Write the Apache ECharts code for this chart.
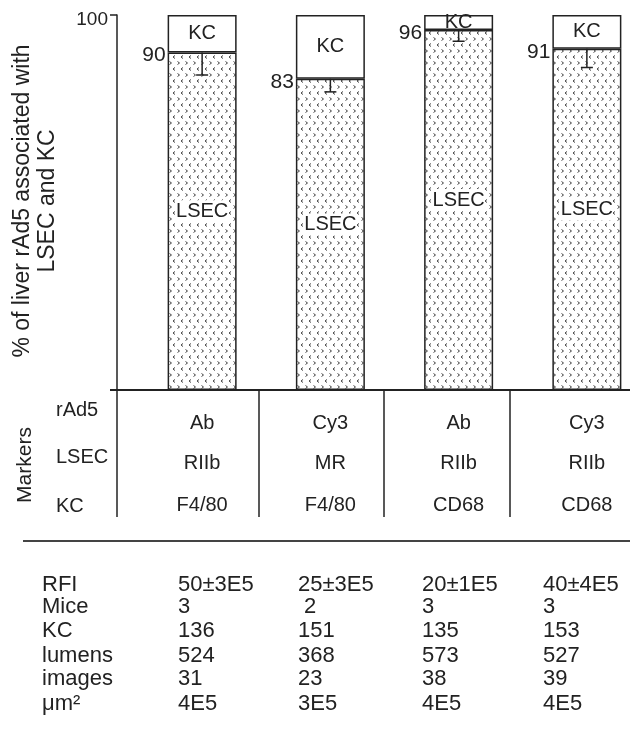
<!DOCTYPE html>
<html><head><meta charset="utf-8">
<script src="https://cdn.jsdelivr.net/npm/echarts@6/dist/echarts.min.js"></script>
<style>html,body{margin:0;padding:0;background:#fff}#c{width:630px;height:741px}</style>
</head><body><div id="c"></div>
<script>
// ---- data ----
var categories = ['A', 'B', 'C', 'D'];
var lsecValues = [90, 83, 96, 91];
var kcValues = [10, 17, 4, 9];
var lsecErrors = [6, 3.5, 3, 5];
var yTickLabels = ['100'];
var markerRowLabels = ['rAd5', 'LSEC', 'KC'];
var rad5Markers = ['Ab', 'Cy3', 'Ab', 'Cy3'];
var lsecMarkers = ['RIIb', 'MR', 'RIIb', 'RIIb'];
var kcMarkers = ['F4/80', 'F4/80', 'CD68', 'CD68'];
var statRowLabels = ['RFI', 'Mice', 'KC', 'lumens', 'images', 'μm²'];
var rfiRow = ['50±3E5', '25±3E5', '20±1E5', '40±4E5'];
var miceRow = ['3', ' 2', '3', '3'];
var kcRow = ['136', '151', '135', '153'];
var lumensRow = ['524', '368', '573', '527'];
var imagesRow = ['31', '23', '38', '39'];
var areaRow = ['4E5', '3E5', '4E5', '4E5'];

var FONT = '"Liberation Sans", Arial, sans-serif';
var TXT = '#222';

function makePattern() {
  var c = document.createElement('canvas'); c.width = 8; c.height = 12;
  var g = c.getContext('2d');
  g.fillStyle = '#fff'; g.fillRect(0, 0, 8, 12);
  g.strokeStyle = '#444'; g.lineWidth = 1;
  g.beginPath(); g.moveTo(1.5, 1.5); g.lineTo(3.5, 3); g.lineTo(1.5, 4.5); g.stroke();
  g.beginPath(); g.moveTo(7, 7.5); g.lineTo(5, 9); g.lineTo(7, 10.5); g.stroke();
  return c;
}

var BARW = 69;
var chart = echarts.init(document.getElementById('c'), null, {renderer: 'canvas'});
var option = {
  backgroundColor: '#fff',
  animation: false,
  grid: {left: 138, top: 15, width: 513, height: 375, containLabel: false, outerBoundsMode: 'none'},
  xAxis: {type: 'category', data: categories, show: false},
  yAxis: {
    type: 'value', min: 0, max: 100, interval: 100, offset: 21,
    axisLine: {show: true, lineStyle: {color: '#222', width: 1.5}},
    axisTick: {show: true, length: 7, lineStyle: {color: '#222', width: 1.5}},
    splitLine: {show: false},
    axisLabel: {
      fontFamily: FONT, fontSize: 19, color: TXT, margin: 9,
      formatter: function (v) { return yTickLabels.indexOf(String(v)) >= 0 ? '{t|' + v + '}' : ''; },
      rich: {t: {fontFamily: FONT, fontSize: 19, color: TXT, padding: [10, 0, 0, 0]}}
    }
  },
  series: [
    {
      name: 'LSEC', type: 'bar', stack: 's', barWidth: BARW, data: lsecValues,
      itemStyle: {color: {image: makePattern(), repeat: 'repeat'}, borderColor: '#222', borderWidth: 1.5},
      label: {show: true, position: 'inside', offset: [0, -10], formatter: 'LSEC',
        fontFamily: FONT, fontSize: 20, color: TXT, backgroundColor: '#fff', padding: [1, 0]}
    },
    {
      name: 'KC', type: 'bar', stack: 's', barWidth: BARW, data: kcValues,
      itemStyle: {color: '#fff', borderColor: '#222', borderWidth: 1.5},
      label: {show: true, position: 'inside', formatter: 'KC',
        fontFamily: FONT, fontSize: 20, color: TXT}
    },
    {
      name: 'err', type: 'custom', z: 5,
      data: lsecValues.map(function (v, i) { return [i, v, lsecErrors[i]]; }),
      renderItem: function (params, api) {
        var i = api.value(0), v = api.value(1), e = api.value(2);
        var top = api.coord([i, v]);
        var bot = api.coord([i, v - e]);
        var cap = 6;
        return {
          type: 'group',
          children: [
            {type: 'line', shape: {x1: top[0], y1: top[1], x2: bot[0], y2: bot[1]}, style: {stroke: '#222', lineWidth: 1.5}},
            {type: 'line', shape: {x1: bot[0] - cap, y1: bot[1], x2: bot[0] + cap, y2: bot[1]}, style: {stroke: '#222', lineWidth: 1.5}},
            {type: 'text', x: top[0] - BARW / 2 - 2, y: top[1] + 3,
              style: {text: String(v), textAlign: 'right', textVerticalAlign: 'middle', font: '21px ' + FONT, fill: TXT}}
          ]
        };
      }
    }
  ]
};
chart.setOption(option);

// ---- table graphics ----
var centers = categories.map(function (c, i) { return chart.convertToPixel({xAxisIndex: 0}, i); });
var g = [];
function txt(x, y, s, align, size, rot) {
  g.push({type: 'text', x: x, y: y, rotation: rot || 0,
    style: {text: s, textAlign: align || 'left', textVerticalAlign: 'middle', font: (size || 20) + 'px ' + FONT, fill: TXT}});
}
function line(x1, y1, x2, y2, w, col) {
  g.push({type: 'line', shape: {x1: x1, y1: y1, x2: x2, y2: y2}, style: {stroke: col || '#222', lineWidth: w || 1.5}});
}
// axis name
g.push({type: 'text', x: 35, y: 201, rotation: Math.PI / 2,
  style: {text: '% of liver rAd5 associated with\nLSEC and KC', textAlign: 'center', textVerticalAlign: 'middle',
    font: '23px ' + FONT, fill: TXT, lineHeight: 25}});
// base line of chart / top of markers table
line(110, 390, 630, 390, 2);
// markers table dividers
[117, 259, 384, 510].forEach(function (x) { line(x, 390, x, 517, 1.5); });
txt(25, 465, 'Markers', 'center', 21, Math.PI / 2);
var markerRowsY = [410, 457, 506];
markerRowLabels.forEach(function (s, r) { txt(56, markerRowsY[r], s, 'left', 20); });
var markerValsY = [423, 463, 505];
[rad5Markers, lsecMarkers, kcMarkers].forEach(function (row, r) {
  row.forEach(function (s, i) { txt(centers[i], markerValsY[r], s, 'center', 20); });
});
// separator
line(23, 541, 630, 541, 2, '#444');
// stats table
var statRowsY = [585, 607, 631, 656, 679, 704];
var statColX = [178, 298, 422, 543];
statRowLabels.forEach(function (s, r) { txt(42, statRowsY[r], s, 'left', 22); });
[rfiRow, miceRow, kcRow, lumensRow, imagesRow, areaRow].forEach(function (row, r) {
  row.forEach(function (s, i) { txt(statColX[i], statRowsY[r], s, 'left', 22); });
});
chart.setOption({graphic: g});
</script></body></html>
